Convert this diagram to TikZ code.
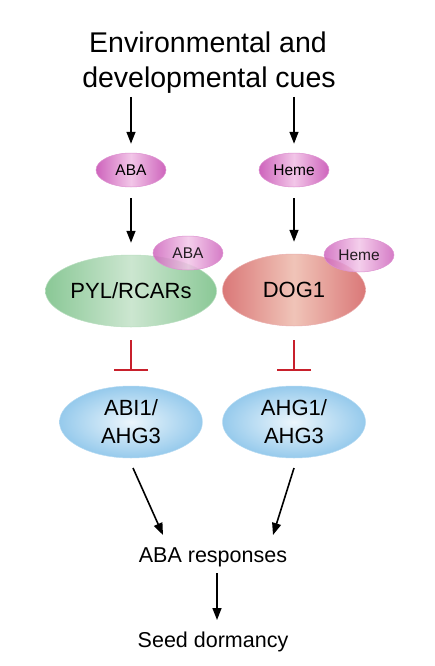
\documentclass[tikz,border=0pt]{standalone}
\usepackage{fontspec}
\setmainfont{Liberation Sans}
\usetikzlibrary{shapes.geometric,arrows.meta}
\definecolor{pinkE}{RGB}{206,100,188}
\definecolor{pinkC}{RGB}{242,198,232}
\definecolor{greenE}{RGB}{138,200,150}
\definecolor{greenC}{RGB}{204,230,208}
\definecolor{redE}{RGB}{218,120,120}
\definecolor{redC}{RGB}{240,196,184}
\definecolor{blueE}{RGB}{150,202,236}
\definecolor{blueC}{RGB}{236,246,252}
\definecolor{inhib}{RGB}{200,32,44}
\tikzset{
  ell/.style={ellipse, inner sep=0pt, text=black},
  lig/.style={ell, minimum width=70pt, minimum height=34pt, left color=pinkE, right color=pinkE, middle color=pinkC, draw=pinkE!70, line width=0.5pt, font=\fontsize{15.5}{18}\selectfont},
  boundlig/.style={lig, fill opacity=0.85},
  bigell/.style={ell, minimum width=143pt, minimum height=72pt, font=\fontsize{22}{28}\selectfont},
  greenell/.style={bigell, left color=greenE, right color=greenE, middle color=greenC, draw=greenE!60, line width=0.5pt},
  redell/.style={bigell, left color=redE, right color=redE, middle color=redC, draw=redE!60, line width=0.5pt},
  blueell/.style={bigell, inner color=blueC, outer color=blueE, draw=blueE!70, line width=0.5pt, align=center},
  arr/.style={line width=1.6pt, -{Triangle[length=12pt,width=9pt]}},
  inh/.style={line width=2.2pt, draw=inhib, -{Bar[width=34pt,line width=2.2pt]}},
  plain/.style={inner sep=0pt, font=\fontsize{21.5}{26}\selectfont},
  titletxt/.style={inner sep=0pt, font=\fontsize{28.5}{35}\selectfont}
}
\begin{document}
\begin{tikzpicture}[x=1pt,y=-1pt]
\useasboundingbox (0,0) rectangle (434,666);
\node[titletxt, anchor=base] (t1) at (208,53) {Environmental and};
\node[titletxt, anchor=base] (t2) at (209,88) {developmental cues};
\node[lig] (aba) at (131,170) {ABA};
\node[lig] (heme) at (294,170) {Heme};
\node[greenell] (pyl) at (131,291) {PYL/RCARs};
\node[redell] (dog) at (294,290) {DOG1};
\node[boundlig] (aba2) at (188,253) {ABA};
\node[boundlig] (heme2) at (359,255) {Heme};
\node[blueell] (abi) at (131,422) {ABI1/\\AHG3};
\node[blueell] (ahg) at (294,422) {AHG1/\\AHG3};
\node[plain, anchor=base] (resp) at (213,562) {ABA responses};
\node[plain, anchor=base] (seed) at (213,647) {Seed dormancy};
% connector end points
\coordinate (s1) at (131,97);
\coordinate (s2) at (294,97);
\coordinate (a1) at (131,198);
\coordinate (a2) at (294,198);
\coordinate (i1) at (131,340);
\coordinate (i2) at (294,340);
\coordinate (r1) at (133,468);
\coordinate (r2) at (294,468);
\coordinate (d1) at (217,573);
\draw[arr] (s1) -- ([yshift=9pt]aba.north);
\draw[arr] (s2) -- ([yshift=9pt]heme.north);
\draw[arr] (a1) -- ([yshift=12pt]pyl.north);
\draw[arr] (a2) -- ([yshift=12pt]dog.north);
\draw[inh] (i1) -- ([yshift=15pt]abi.north);
\draw[inh] (i2) -- ([yshift=15pt]ahg.north);
\draw[arr] (r1) -- (163,535);
\draw[arr] (r2) -- (273,535);
\draw[arr] (d1) -- (217,620);
\end{tikzpicture}
\end{document}
